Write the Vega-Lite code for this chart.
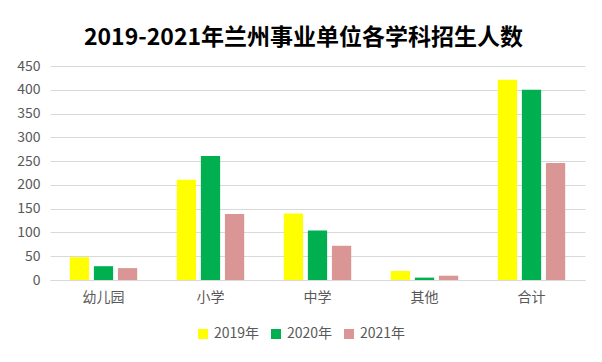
{
  "$schema": "https://vega.github.io/schema/vega-lite/v6.json",
  "autosize": "none",
  "width": 535,
  "height": 214,
  "padding": {"left": 50, "top": 66, "right": 17, "bottom": 82},
  "background": "white",
  "title": {
    "text": "2019-2021年兰州事业单位各学科招生人数",
    "font": "Noto Sans CJK SC",
    "fontSize": 23,
    "fontWeight": "bold",
    "color": "#000000",
    "anchor": "middle",
    "dx": -14,
    "offset": 9
  },
  "data": {
    "values": [
      {"category": "幼儿园", "year": "2019年", "value": 48},
      {"category": "幼儿园", "year": "2020年", "value": 29},
      {"category": "幼儿园", "year": "2021年", "value": 25},
      {"category": "小学", "year": "2019年", "value": 211},
      {"category": "小学", "year": "2020年", "value": 261},
      {"category": "小学", "year": "2021年", "value": 139},
      {"category": "中学", "year": "2019年", "value": 140},
      {"category": "中学", "year": "2020年", "value": 104},
      {"category": "中学", "year": "2021年", "value": 72},
      {"category": "其他", "year": "2019年", "value": 19},
      {"category": "其他", "year": "2020年", "value": 5},
      {"category": "其他", "year": "2021年", "value": 9},
      {"category": "合计", "year": "2019年", "value": 421},
      {"category": "合计", "year": "2020年", "value": 400},
      {"category": "合计", "year": "2021年", "value": 246}
    ]
  },
  "mark": {"type": "bar"},
  "encoding": {
    "x": {
      "field": "category",
      "type": "nominal",
      "sort": ["幼儿园", "小学", "中学", "其他", "合计"],
      "scale": {"paddingInner": 0.37, "paddingOuter": 0.185},
      "axis": {
        "title": null,
        "labelAngle": 0,
        "ticks": false,
        "domain": true,
        "domainColor": "#d9d9d9",
        "labelPadding": 10,
        "labelFontSize": 14,
        "labelColor": "#595959",
        "labelFont": "Noto Sans CJK SC"
      }
    },
    "xOffset": {
      "field": "year",
      "type": "nominal",
      "scale": {"paddingInner": 0.2, "paddingOuter": 0}
    },
    "y": {
      "field": "value",
      "type": "quantitative",
      "scale": {"domain": [0, 450]},
      "axis": {
        "title": null,
        "values": [0, 50, 100, 150, 200, 250, 300, 350, 400, 450],
        "domain": false,
        "ticks": false,
        "labelPadding": 10,
        "labelFontSize": 14,
        "labelColor": "#595959",
        "labelFont": "Noto Sans CJK SC",
        "gridColor": "#d9d9d9",
        "gridWidth": 1
      }
    },
    "color": {
      "field": "year",
      "type": "nominal",
      "scale": {
        "domain": ["2019年", "2020年", "2021年"],
        "range": ["#FFFF00", "#00B050", "#DA9694"]
      },
      "legend": {
        "title": null,
        "orient": "none",
        "legendX": 146,
        "legendY": 261,
        "direction": "horizontal",
        "symbolType": "square",
        "symbolSize": 100,
        "symbolStrokeWidth": 0,
        "labelFontSize": 14,
        "labelColor": "#595959",
        "labelFont": "Noto Sans CJK SC",
        "columnPadding": 9
      }
    }
  },
  "config": {
    "view": {"stroke": null}
  }
}
